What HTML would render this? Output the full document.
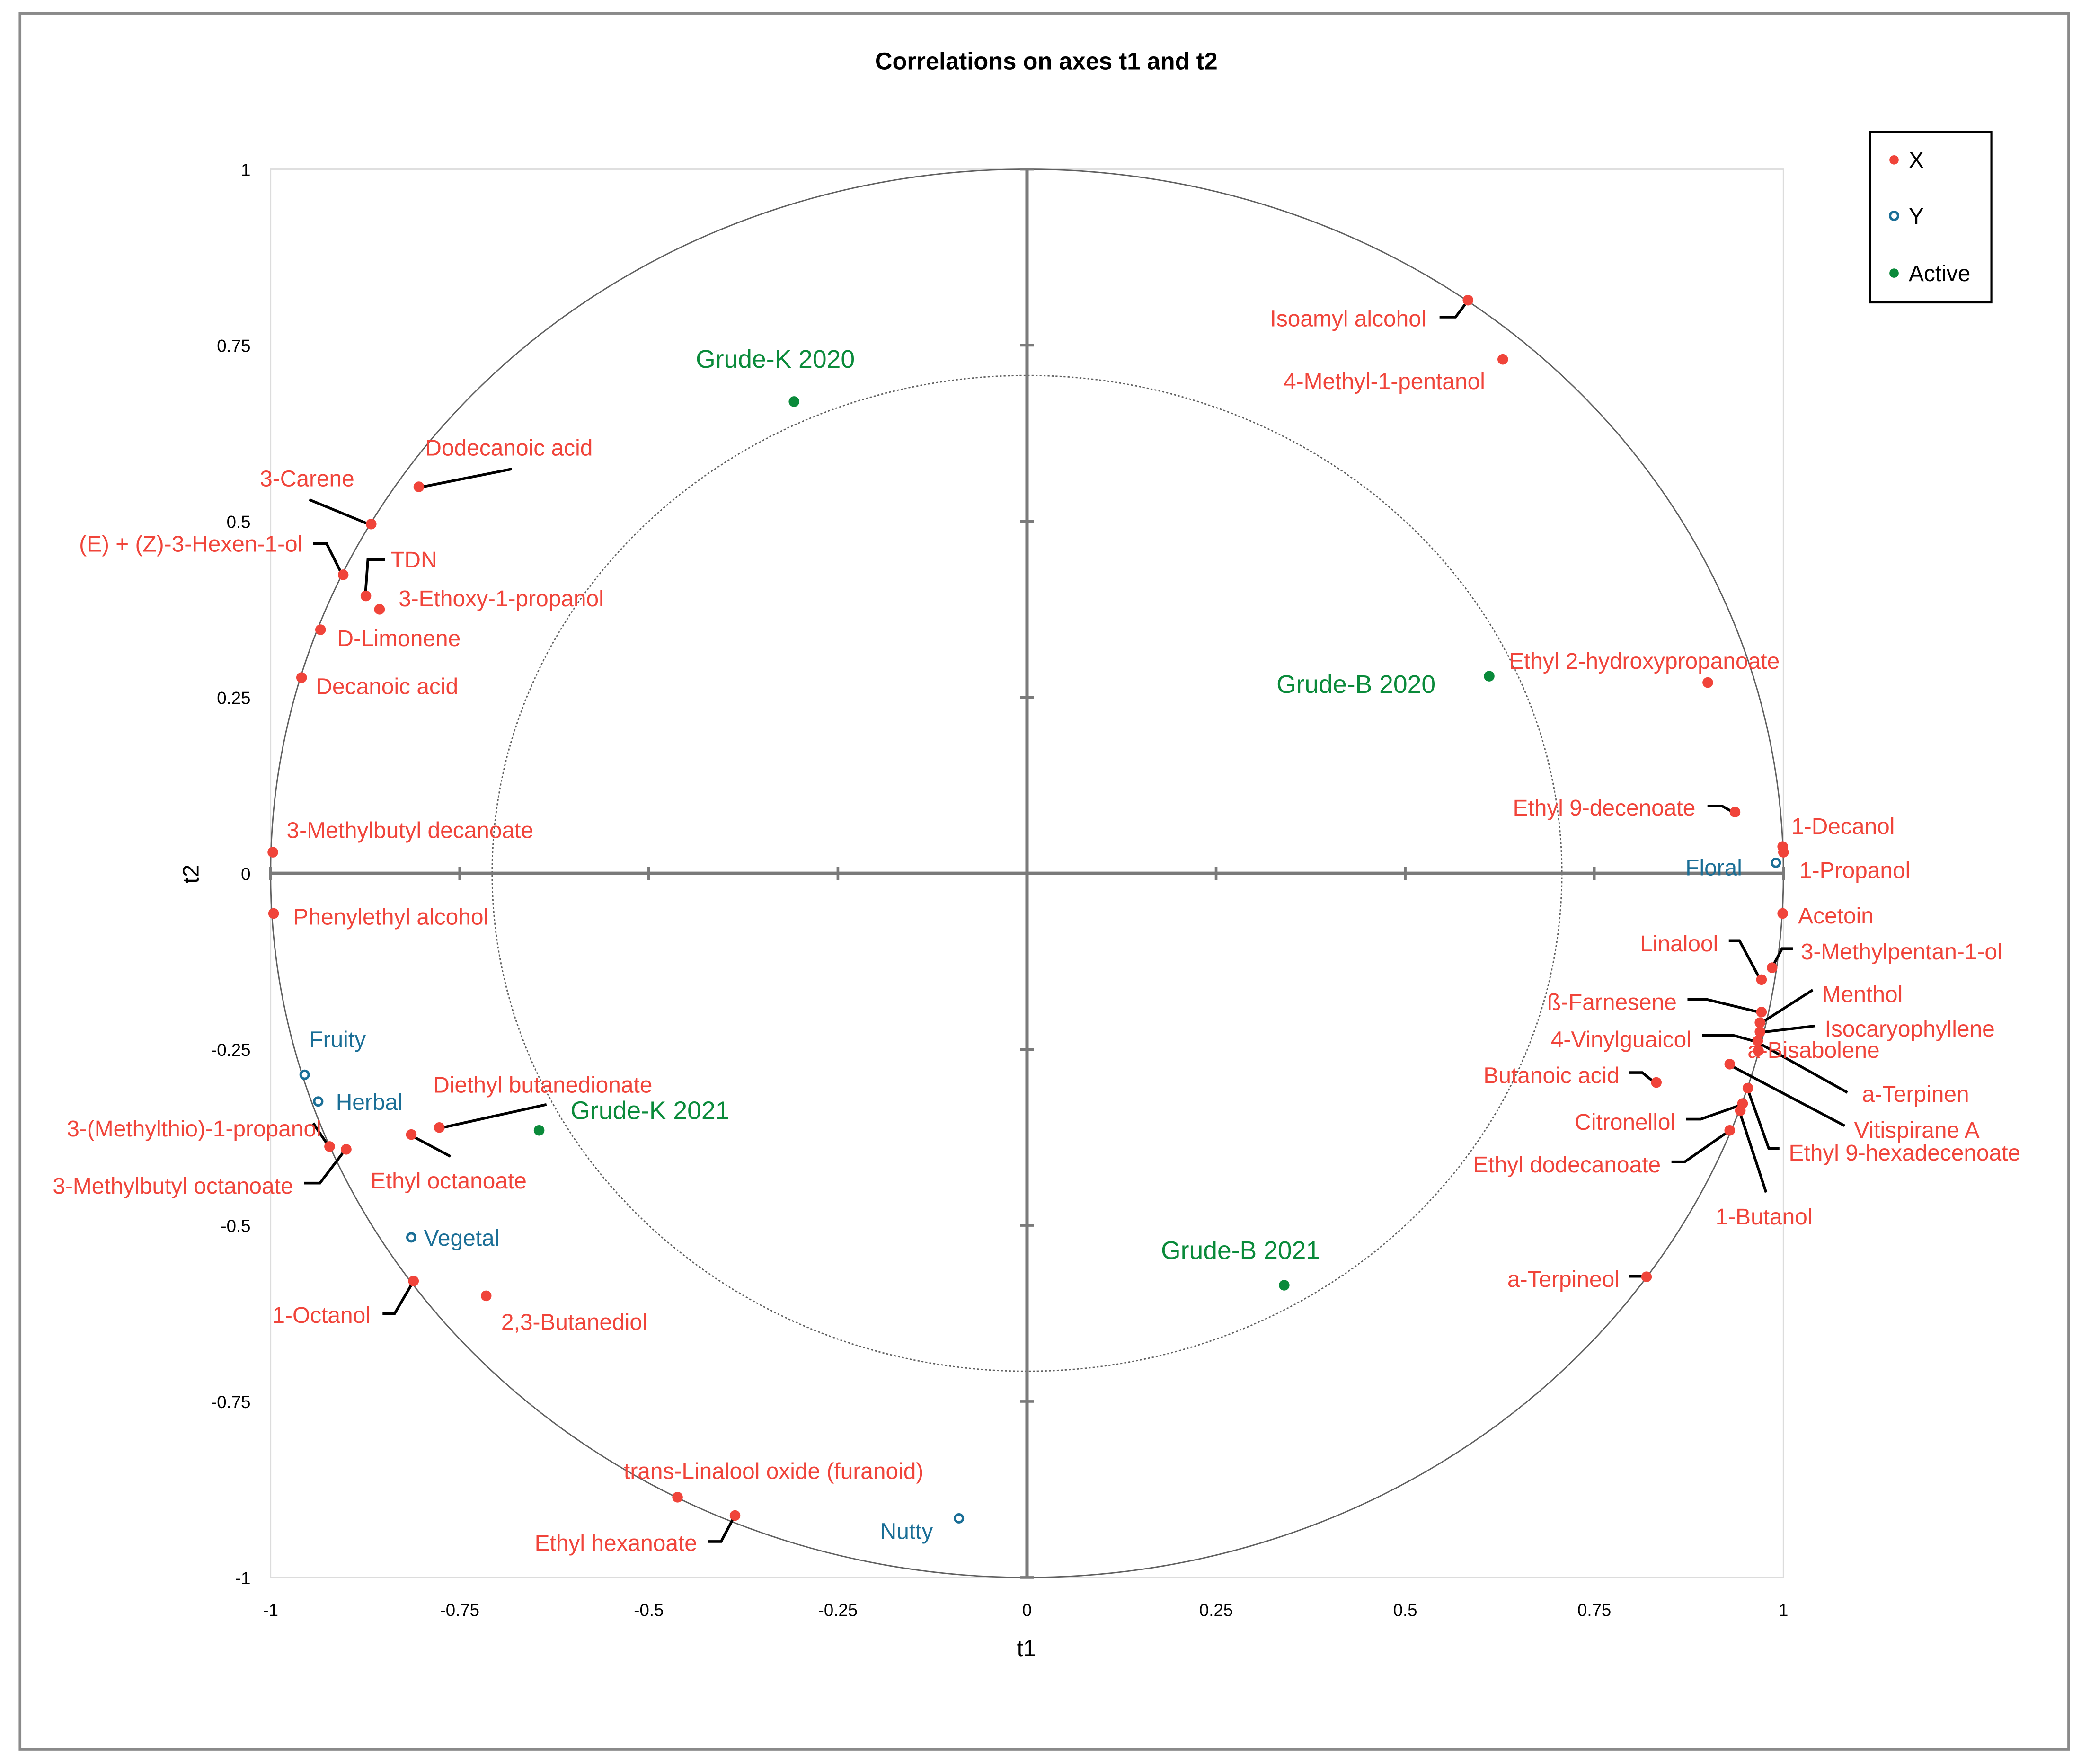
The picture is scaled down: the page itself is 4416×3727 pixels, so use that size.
<!DOCTYPE html>
<html><head><meta charset="utf-8"><style>
html,body{margin:0;padding:0;background:#fff;}
svg{display:block;}
text{font-family:"Liberation Sans",sans-serif;}
</style></head><body>
<svg id="chart" width="4416" height="3727" viewBox="0 0 1568 1324" preserveAspectRatio="none" xmlns="http://www.w3.org/2000/svg">
<rect x="15" y="10" width="1537" height="1303" fill="#fff" stroke="#8a8a8a" stroke-width="2"/>
<text x="785" y="52" text-anchor="middle" font-size="18" font-weight="bold" fill="#000">Correlations on axes t1 and t2</text>
<rect x="203" y="127" width="1135" height="1057" fill="none" stroke="#dcdcdc" stroke-width="1"/>
<g id="axes"></g>
<g id="leaders" stroke="#000" stroke-width="2" fill="none">
<polyline points="1080,238 1092,238 1101,226"/>
<polyline points="314,366 384,352"/>
<polyline points="232,375 278,394"/>
<polyline points="235,408 245,408 257,432"/>
<polyline points="289,420 276,420 274,448"/>
<polyline points="1281,605 1292,605 1301,610"/>
<polyline points="1297,706 1305,706 1321,736"/>
<polyline points="1345,712 1337,712 1329,727"/>
<polyline points="1266,750 1280,750 1321,760"/>
<polyline points="1360,743 1321,768"/>
<polyline points="1362,770 1320,775"/>
<polyline points="1277,777 1300,777 1318,782"/>
<polyline points="1386,820 1318,782"/>
<polyline points="1222,805 1232,805 1242,813"/>
<polyline points="1384,845 1297,799"/>
<polyline points="1265,840 1276,840 1307,829"/>
<polyline points="1335,862 1327,862 1311,817"/>
<polyline points="1254,872 1264,872 1297,849"/>
<polyline points="1325,895 1305,834"/>
<polyline points="1222,958 1232,958 1235,959"/>
<polyline points="410,829 329,847"/>
<polyline points="235,843 247,861"/>
<polyline points="228,888 240,888 259,863"/>
<polyline points="338,868 308,852"/>
<polyline points="287,986 296,986 310,962"/>
<polyline points="531,1157 541,1157 551,1138"/>
</g>
<g id="marks"></g>
<g font-size="17" fill="#f0443a">
<text x="1070" y="245" text-anchor="end">Isoamyl alcohol</text>
<text x="963" y="292">4-Methyl-1-pentanol</text>
<text x="319" y="342">Dodecanoic acid</text>
<text x="195" y="365">3-Carene</text>
<text x="227" y="414" text-anchor="end">(E) + (Z)-3-Hexen-1-ol</text>
<text x="293" y="426">TDN</text>
<text x="299" y="455">3-Ethoxy-1-propanol</text>
<text x="253" y="485">D-Limonene</text>
<text x="237" y="521">Decanoic acid</text>
<text x="215" y="629">3-Methylbutyl decanoate</text>
<text x="220" y="694">Phenylethyl alcohol</text>
<text x="1132" y="502">Ethyl 2-hydroxypropanoate</text>
<text x="1272" y="612" text-anchor="end">Ethyl 9-decenoate</text>
<text x="1344" y="626">1-Decanol</text>
<text x="1350" y="659">1-Propanol</text>
<text x="1349" y="693">Acetoin</text>
<text x="1289" y="714" text-anchor="end">Linalool</text>
<text x="1351" y="720">3-Methylpentan-1-ol</text>
<text x="1258" y="758" text-anchor="end">ß-Farnesene</text>
<text x="1367" y="752">Menthol</text>
<text x="1369" y="778">Isocaryophyllene</text>
<text x="1269" y="786" text-anchor="end">4-Vinylguaicol</text>
<text x="1311" y="794">a-Bisabolene</text>
<text x="1397" y="827">a-Terpinen</text>
<text x="1215" y="813" text-anchor="end">Butanoic acid</text>
<text x="1391" y="854">Vitispirane A</text>
<text x="1257" y="848" text-anchor="end">Citronellol</text>
<text x="1342" y="871">Ethyl 9-hexadecenoate</text>
<text x="1246" y="880" text-anchor="end">Ethyl dodecanoate</text>
<text x="1287" y="919">1-Butanol</text>
<text x="1215" y="966" text-anchor="end">a-Terpineol</text>
<text x="325" y="820">Diethyl butanedionate</text>
<text x="241" y="853" text-anchor="end">3-(Methylthio)-1-propanol</text>
<text x="220" y="896" text-anchor="end">3-Methylbutyl octanoate</text>
<text x="278" y="892">Ethyl octanoate</text>
<text x="278" y="993" text-anchor="end">1-Octanol</text>
<text x="376" y="998">2,3-Butanediol</text>
<text x="468" y="1110">trans-Linalool oxide (furanoid)</text>
<text x="523" y="1164" text-anchor="end">Ethyl hexanoate</text>
</g>
<g font-size="17" fill="#1a6e96">
<text x="1307" y="657" text-anchor="end">Floral</text>
<text x="232" y="786">Fruity</text>
<text x="252" y="833">Herbal</text>
<text x="318" y="935">Vegetal</text>
<text x="700" y="1155" text-anchor="end">Nutty</text>
</g>
<g font-size="19" fill="#0a8a3a">
<text x="522" y="276">Grude-K 2020</text>
<text x="1077" y="520" text-anchor="end">Grude-B 2020</text>
<text x="428" y="840">Grude-K 2021</text>
<text x="871" y="945">Grude-B 2021</text>
</g>
<g>
<rect x="1403" y="99" width="91" height="128" fill="#fff" stroke="#000" stroke-width="1.5"/>
<circle cx="1421" cy="120" r="3.5" fill="#f0443a"/>
<text x="1432" y="126" font-size="17">X</text>
<circle cx="1421" cy="162" r="3" fill="none" stroke="#1a6e96" stroke-width="1.8"/>
<text x="1432" y="168" font-size="17">Y</text>
<circle cx="1421" cy="205" r="3.5" fill="#0a8a3a"/>
<text x="1432" y="211" font-size="17">Active</text>
</g>
</svg>
<script>
const xPts = [[0.583,0.814],[0.629,0.730],[-0.804,0.549],[-0.867,0.496],[-0.904,0.424],[-0.874,0.394],[-0.856,0.375],[-0.934,0.346],[-0.959,0.278],[-0.997,0.030],[-0.996,-0.057],[0.900,0.271],[0.936,0.087],[0.999,0.038],[1.0,0.030],[0.999,-0.057],[0.985,-0.134],[0.971,-0.151],[0.971,-0.197],[0.969,-0.212],[0.969,-0.225],[0.966,-0.238],[0.967,-0.252],[0.929,-0.271],[0.832,-0.297],[0.953,-0.305],[0.946,-0.327],[0.943,-0.337],[0.929,-0.365],[0.819,-0.573],[-0.922,-0.388],[-0.900,-0.392],[-0.777,-0.361],[-0.814,-0.371],[-0.811,-0.579],[-0.715,-0.600],[-0.462,-0.886],[-0.386,-0.912]];
const yPts = [[0.990,0.015],[-0.955,-0.286],[-0.937,-0.324],[-0.814,-0.517],[-0.090,-0.916]];
const activePts = [[-0.308,0.670],[0.611,0.280],[-0.645,-0.365],[0.340,-0.585]];
const ticks = [-1,-0.75,-0.5,-0.25,0,0.25,0.5,0.75,1];
const tickLabels = ["-1","-0.75","-0.5","-0.25","0","0.25","0.5","0.75","1"];
const NS="http://www.w3.org/2000/svg";
const X0=203,X1=1338,Y0=1184,Y1=127;
function sx(v){return X0+(v+1)/2*(X1-X0);}
function sy(v){return Y0-(v+1)/2*(Y0-Y1);}
function mk(tag,attrs,parent){const e=document.createElementNS(NS,tag);for(const k in attrs)e.setAttribute(k,attrs[k]);parent.appendChild(e);return e;}
const ax=document.getElementById('axes');
const cx=sx(0),cy=sy(0),rx=sx(1)-cx,ry=cy-sy(1);
let e=mk('ellipse',{cx:cx,cy:cy,rx:rx,ry:ry,fill:'none',stroke:'#606060','stroke-width':1},ax);


e=mk('ellipse',{cx:cx,cy:cy,rx:rx*Math.SQRT1_2,ry:ry*Math.SQRT1_2,fill:'none',stroke:'#606060','stroke-width':1,'stroke-dasharray':'1.5,1.5'},ax);


e=mk('line',{x1:X0,y1:cy,x2:X1,y2:cy,stroke:'#7a7a7a','stroke-width':2.5},ax);


e=mk('line',{x1:cx,y1:Y1,x2:cx,y2:Y0,stroke:'#7a7a7a','stroke-width':2.5},ax);


ticks.forEach((t,i)=>{
  let l=mk('line',{x1:sx(t),y1:cy-5,x2:sx(t),y2:cy+5,stroke:'#7a7a7a','stroke-width':2},ax);
  
  
  l=mk('line',{x1:cx-5,y1:sy(t),x2:cx+5,y2:sy(t),stroke:'#7a7a7a','stroke-width':2},ax);
  
  
  let tx=mk('text',{x:sx(t),y:1213,'text-anchor':'middle','font-size':13},ax);
  tx.textContent=tickLabels[i];
  
  
  tx=mk('text',{x:188,y:sy(t)+5,'text-anchor':'end','font-size':13},ax);
  tx.textContent=tickLabels[i];
  
  
});
let t=mk('text',{x:770,y:1243,'text-anchor':'middle','font-size':17},ax);
t.textContent='t1';


t=mk('text',{x:149,y:656,'text-anchor':'middle','font-size':17,transform:'rotate(-90 149 656)'},ax);
t.textContent='t2';


const mg=document.getElementById('marks');
xPts.forEach(p=>{const c=mk('circle',{cx:sx(p[0]),cy:sy(p[1]),r:4,fill:'#f0443a'},mg);

});
yPts.forEach(p=>{const c=mk('circle',{cx:sx(p[0]),cy:sy(p[1]),r:3,fill:'#fff',stroke:'#1a6e96','stroke-width':1.8},mg);

});
activePts.forEach(p=>{const c=mk('circle',{cx:sx(p[0]),cy:sy(p[1]),r:4,fill:'#0a8a3a'},mg);

});
</script>
</body></html>
